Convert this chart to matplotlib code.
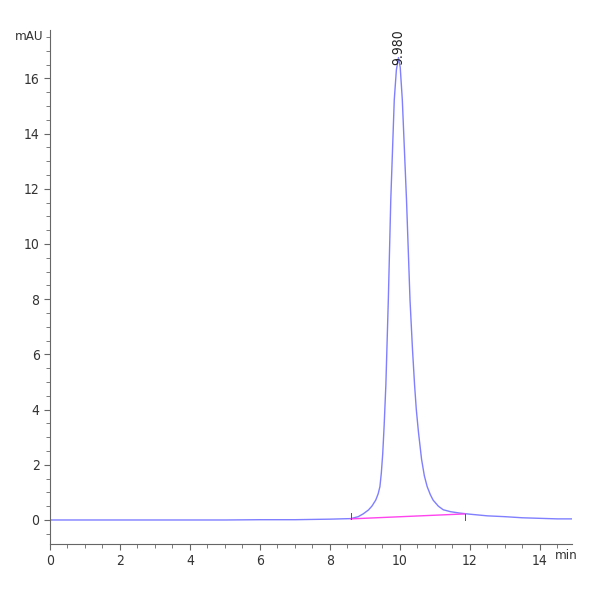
import matplotlib.pyplot as plt
from matplotlib.ticker import MultipleLocator

plt.rcParams['font.family'] = ['DejaVu Sans']
plt.rcParams['font.stretch'] = 'condensed'

# Data
time = [0, 1, 2, 3, 4, 5, 6, 7, 7.5, 8, 8.3, 8.6, 8.81, 8.95, 9.1, 9.2,
        9.31, 9.38, 9.43, 9.47, 9.51, 9.55, 9.6, 9.67, 9.74, 9.84, 9.9, 9.96,
        10.01, 10.07, 10.19, 10.29, 10.36, 10.42, 10.47, 10.53, 10.62, 10.7,
        10.78, 10.87, 10.95, 11.1, 11.24, 11.45, 11.71, 12.0, 12.5, 13.0,
        13.5, 14.0, 14.5, 14.92]
signal = [0, 0, 0, 0, 0, 0, 0.01, 0.01, 0.02, 0.03, 0.04, 0.05, 0.12, 0.22,
          0.36, 0.5, 0.72, 0.95, 1.21, 1.7, 2.4, 3.4, 4.9, 7.97, 11.59, 15.22,
          16.3, 16.75, 16.4, 15.22, 11.59, 7.97, 6.2, 4.9, 4.0, 3.2, 2.2, 1.6,
          1.21, 0.92, 0.72, 0.5, 0.37, 0.3, 0.25, 0.21, 0.15, 0.12, 0.08, 0.06,
          0.04, 0.04]
base_t = [8.6, 11.86]
base_y = [0.04, 0.22]
peak_rt = 9.98
peak_h = 16.75

fig = plt.figure(figsize=(6, 6), dpi=100)
ax = fig.add_axes([50 / 600, 56 / 600, 522 / 600, 514 / 600])

ax.plot(time, signal, color='#7f7fff', lw=1.0)
ax.plot(base_t, base_y, color='#ff44ee', lw=1.0)
# integration markers
ax.plot([base_t[0], base_t[0]], [base_y[0], base_y[0] + 0.22], color='#555555', lw=0.7)
ax.plot([base_t[1], base_t[1]], [base_y[1] - 0.22, base_y[1]], color='#555555', lw=0.7)

ax.text(peak_rt - 0.04, peak_h - 0.25, '9.980', rotation=90, ha='center', va='bottom',
        fontsize=10, color='#222222')

ax.set_xlim(0, 14.92)
ax.set_ylim(-0.87, 17.75)
ax.xaxis.set_minor_locator(MultipleLocator(0.5))
ax.yaxis.set_minor_locator(MultipleLocator(0.5))
ax.set_xticks([0, 2, 4, 6, 8, 10, 12, 14])
ax.set_yticks([0, 2, 4, 6, 8, 10, 12, 14, 16])

for s in ['top', 'right']:
    ax.spines[s].set_visible(False)
for s in ['left', 'bottom']:
    ax.spines[s].set_color('#666666')
    ax.spines[s].set_linewidth(0.8)
ax.tick_params(which='both', direction='out', color='#666666', labelcolor='#333333',
               labelsize=10)
ax.tick_params(which='major', length=4, width=0.8)
ax.tick_params(which='minor', length=3, width=0.6)

ax.text(-0.2, 17.5, 'mAU', ha='right', va='center', fontsize=9.5, color='#333333')
ax.text(14.76, -1.05, 'min', ha='center', va='top', fontsize=9.5, color='#333333')

fig.savefig('out.png', dpi=100)
